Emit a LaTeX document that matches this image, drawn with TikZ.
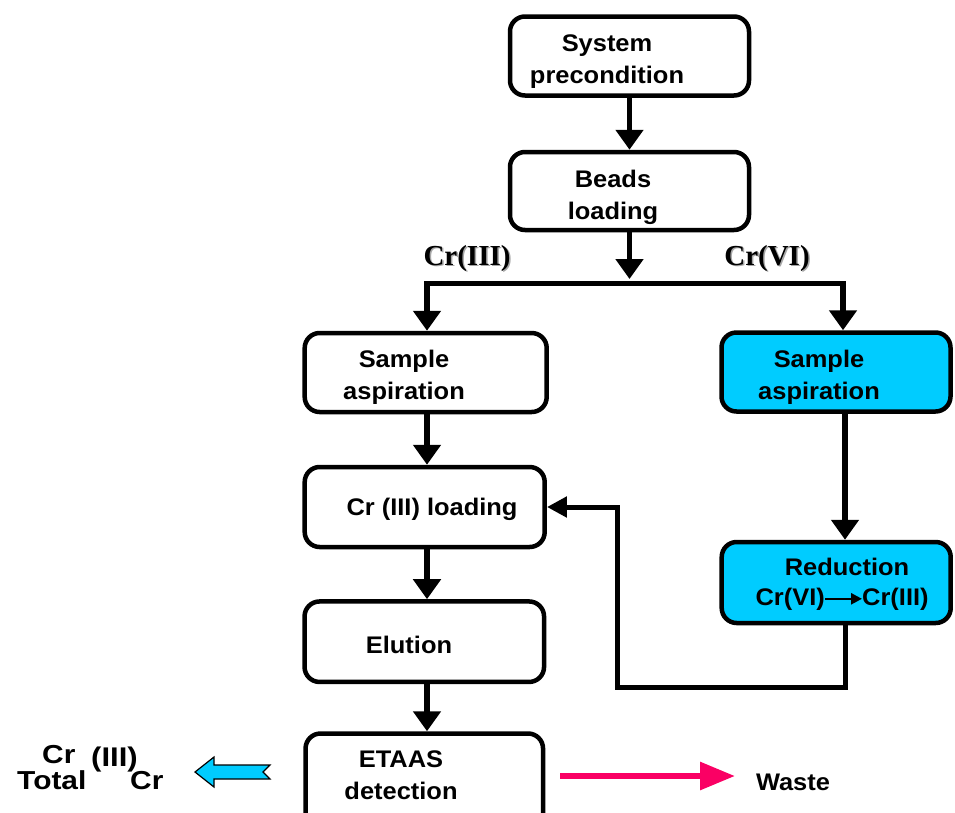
\documentclass[tikz,border=0pt]{standalone}
\usepackage{fontspec}
\setmainfont{Liberation Sans}[FakeStretch=1.06]
\newfontfamily\widesans{Liberation Sans}[FakeStretch=1.15]
\newfontfamily\tms{Liberation Serif}
\usetikzlibrary{arrows.meta,calc}
\definecolor{cy}{RGB}{0,204,255}
\definecolor{pk}{RGB}{250,0,100}
\begin{document}
\begin{tikzpicture}[x=1pt,y=-1pt,
  font=\bfseries\fontsize{24}{32}\selectfont,
  box/.style={draw, line width=4.5pt, rounded corners=15pt, inner sep=0pt},
  bluebox/.style={box, fill=cy},
  lbl/.style={inner sep=0pt, align=center},
  arr/.style={line width=5.5pt, -{Triangle[length=20pt,width=27pt]}},
  fb/.style={line width=5pt, -{Triangle[length=20pt,width=20pt]}},
  serifl/.style={inner sep=0pt, anchor=base, font=\tms\bfseries\fontsize{29}{29}\selectfont},
  big/.style={inner sep=0pt, anchor=base west, font=\widesans\bfseries\fontsize{26}{26}\selectfont}]
\useasboundingbox (0,0) rectangle (955,812);
\clip (0,0) rectangle (955,812);

% boxes
\node[box, minimum width=239pt, minimum height=79pt] (sys) at (629.5,56) {};
\node[box, minimum width=239pt, minimum height=78pt] (beads) at (629.5,191) {};
\node[box, minimum width=242pt, minimum height=79pt] (saL) at (425.7,372.5) {};
\node[bluebox, minimum width=229pt, minimum height=79pt] (saR) at (836,372) {};
\node[box, minimum width=240pt, minimum height=80pt] (crl) at (424.7,507) {};
\node[bluebox, minimum width=229pt, minimum height=81pt] (red) at (836.2,582.5) {};
\node[box, minimum width=239.5pt, minimum height=80.5pt] (elu) at (424.3,641.7) {};
\node[box, minimum width=237.5pt, minimum height=100pt] (eta) at (424.3,783.5) {};

% texts
\node[lbl] (tsys) at (607,61.3) {System\\precondition};
\node[lbl] (tbeads) at (613,197.8) {Beads\\loading};
\node[lbl] (tsaL) at (404,377.3) {Sample\\aspiration};
\node[lbl] (tsaR) at (819,377.3) {Sample\\aspiration};
\node[lbl, anchor=base] (tcrl) at (432,515) {Cr (III) loading};
\node[lbl, anchor=base] (tred) at (847,575) {Reduction};
\node[lbl, anchor=base east] (tcv) at (825,605) {Cr(VI)};
\node[lbl, anchor=base west] (tci) at (862,605) {Cr(III)};
\node[lbl, anchor=base] (telu) at (409,653) {Elution};
\node[lbl] (teta) at (401,775.3) {ETAAS\\detection};
\node[lbl, anchor=base] (waste) at (793,790) {Waste};

% branch labels with shadow
\node[serifl, text=black!35] at (468.5,266.5) {Cr(III)};
\node[serifl] (lIII) at (467,265) {Cr(III)};
\node[serifl, text=black!35] at (768.5,266.5) {Cr(VI)};
\node[serifl] (lVI) at (767,265) {Cr(VI)};

% left result text
\node[big] (c1) at (42,763) {Cr};
\node[big, font=\widesans\bfseries\fontsize{27}{27}\selectfont] (c3) at (91,766) {(III)};
\node[big] (tot) at (17,789) {Total};
\node[big] (c2) at (130,789) {Cr};

% coordinates
\coordinate (jn) at (629.5,283.5);
\coordinate (jt) at (629.5,279);
\coordinate (jl) at (427,283.5);
\coordinate (jr) at (843,283.5);
\coordinate (rx) at (845,0);
\coordinate (fbc) at (617.5,687.5);
\coordinate (ws) at (560,776);
\coordinate (we) at (735,776);

% connectors
\draw[arr] (sys.south) -- (beads.north);
\draw[arr] (beads.south) -- (jt);
\draw[arr] (jn) -| (jl |- saL.north);
\draw[arr] (jn) -| (jr |- saR.north);
\draw[arr] (saL.south -| jl) -- (crl.north -| jl);
\draw[arr] (saR.south -| rx) -- (red.north -| rx);
\draw[fb] (red.south -| rx) |- (fbc) |- (crl.east);
\draw[arr] (crl.south -| jl) -- (elu.north -| jl);
\draw[arr] (elu.south -| jl) -- (eta.north -| jl);
\draw[line width=2.5pt, -{Triangle[length=11pt,width=11pt]}] (tcv.east) -- (tci.west);
\draw[pk, line width=6pt, -{Triangle[length=35pt,width=27pt]}] (ws) -- (we);

% cyan block arrow
\draw[fill=cy, line width=1.2pt, line join=miter]
  (195,772) -- (214,757) -- (214,765) -- (270,765) -- (263,772)
  -- (270,779) -- (214,779) -- (214,787) -- cycle;
\end{tikzpicture}
\end{document}
